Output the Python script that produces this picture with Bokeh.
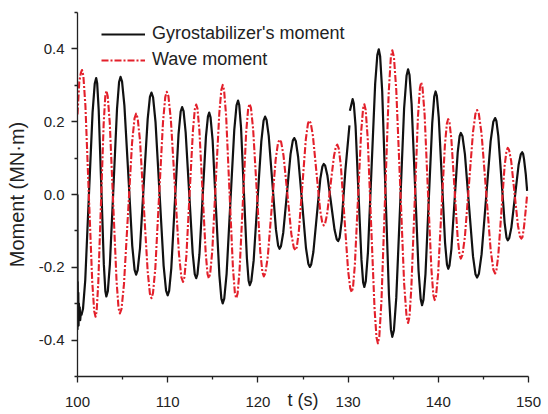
from bokeh.plotting import figure
from bokeh.models import FixedTicker, PrintfTickFormatter, Range1d, Legend, LegendItem
from bokeh.embed import file_html
from bokeh.resources import INLINE

NAN = float("nan")

# Gyrostabilizer's moment (MN·m) vs time t (s)
gyro_t = [100.0, 100.0, 100.03, 100.06, 100.09, 100.12, 100.16, 100.2, 100.25, 100.3, 100.37, 100.45,
          100.61, 100.86, 101.26, 101.67,
          101.91, 102.07, 102.18, 102.35, 102.64, 102.92,
          103.09, 103.2, 103.36, 103.59, 103.99, 104.38,
          104.61, 104.77, 104.94, 105.2, 105.64, 106.07,
          106.33, 106.5, 106.67, 106.93, 107.35, 107.78,
          108.03, 108.2, 108.38, 108.65, 109.1, 109.55,
          109.82, 110.0, 110.16, 110.4, 110.8, 111.2,
          111.44, 111.6, 111.76, 111.99, 112.38, 112.77,
          113.0, 113.16, 113.3, 113.52, 113.88, 114.24,
          114.46, 114.6, 114.75, 114.98, 115.35, 115.73,
          115.95, 116.1, 116.27, 116.53, 116.95, 117.38,
          117.63, 117.8, 117.93, 118.13, 118.45, 118.78,
          118.97, 119.1, 119.27, 119.53, 119.95, 120.38,
          120.63, 120.8, 120.96, 121.2, 121.6, 122.0,
          122.24, 122.4, 122.56, 122.81, 123.22, 123.62,
          123.87, 124.03, 124.2, 124.46, 124.9, 125.33,
          125.59, 125.76, 125.91, 126.15, 126.53, 126.92,
          127.15, 127.3, 127.46, 127.7, 128.1, 128.5,
          128.74, 128.9, 129.06, 129.3, 129.7, 130.15, NAN, 130.2,
          130.5, 130.63, 130.83, 131.15, 131.48,
          131.67, 131.8, 131.96, 132.2, 132.6, 133.0,
          133.24, 133.4, 133.55, 133.78, 134.15, 134.53,
          134.75, 134.9, 135.08, 135.34, 135.78, 136.21,
          136.48, 136.65, 136.81, 137.04, 137.43, 137.81,
          138.05, 138.2, 138.35, 138.58, 138.95, 139.33,
          139.55, 139.7, 139.84, 140.05, 140.4, 140.75,
          140.96, 141.1, 141.24, 141.45, 141.8, 142.15,
          142.36, 142.5, 142.68, 142.95, 143.4, 143.85,
          144.12, 144.3, 144.5, 144.8, 145.3, 145.8,
          146.1, 146.3, 146.44, 146.65, 147.0, 147.35,
          147.56, 147.7, 147.86, 148.1, 148.5, 148.9,
          149.14, 149.3, 149.4, 149.5, 149.7, 149.85]
gyro_m = [0.0, -0.37, -0.24, -0.35, -0.27, -0.36, -0.30, -0.34, -0.31, -0.345, -0.325, -0.33,
          -0.314, -0.235, -0.005, 0.225,
          0.304, 0.32, 0.306, 0.232, 0.02, -0.192,
          -0.266, -0.28, -0.266, -0.192, 0.022, 0.235,
          0.309, 0.323, 0.31, 0.244, 0.052, -0.141,
          -0.207, -0.22, -0.208, -0.147, 0.03, 0.207,
          0.268, 0.28, 0.267, 0.199, 0.002, -0.196,
          -0.264, -0.277, -0.265, -0.202, -0.019, 0.165,
          0.228, 0.24, 0.229, 0.171, 0.005, -0.161,
          -0.219, -0.23, -0.219, -0.164, -0.003, 0.159,
          0.214, 0.225, 0.212, 0.149, -0.037, -0.222,
          -0.286, -0.299, -0.286, -0.218, -0.021, 0.177,
          0.245, 0.258, 0.246, 0.184, 0.005, -0.175,
          -0.237, -0.249, -0.238, -0.181, -0.018, 0.146,
          0.203, 0.214, 0.205, 0.161, 0.033, -0.096,
          -0.14, -0.149, -0.142, -0.105, 0.003, 0.111,
          0.148, 0.155, 0.147, 0.103, -0.022, -0.147,
          -0.19, -0.199, -0.192, -0.158, -0.058, 0.043,
          0.077, 0.084, 0.079, 0.053, -0.022, -0.097,
          -0.123, -0.128, -0.119, -0.071, 0.067, 0.19, NAN, 0.23,
          0.262, 0.25, 0.187, 0.004, -0.179,
          -0.242, -0.254, -0.238, -0.159, 0.073, 0.304,
          0.383, 0.399, 0.38, 0.284, 0.004, -0.276,
          -0.372, -0.391, -0.373, -0.284, -0.024, 0.237,
          0.326, 0.344, 0.328, 0.249, 0.02, -0.209,
          -0.288, -0.304, -0.29, -0.218, -0.011, 0.197,
          0.269, 0.283, 0.271, 0.212, 0.040, -0.133,
          -0.192, -0.204, -0.195, -0.15, -0.018, 0.115,
          0.16, 0.169, 0.16, 0.111, -0.03, -0.17,
          -0.219, -0.228, -0.218, -0.164, -0.009, 0.146,
          0.2, 0.21, 0.202, 0.161, 0.042, -0.077,
          -0.118, -0.126, -0.12, -0.091, -0.005, 0.081,
          0.11, 0.116, 0.112, 0.098, 0.055, 0.01]

# Wave moment (MN·m) vs time t (s)
wave_t = [100.0, 100.2, 100.38, 100.5, 100.65,
          100.88, 101.25, 101.63,
          101.85, 102.0, 102.12, 102.3, 102.6, 102.9,
          103.08, 103.2, 103.35, 103.58, 103.95, 104.33,
          104.55, 104.7, 104.88, 105.15, 105.6, 106.05,
          106.32, 106.5, 106.67, 106.93, 107.35, 107.78,
          108.03, 108.2, 108.37, 108.63, 109.05, 109.48,
          109.73, 109.9, 110.08, 110.35, 110.8, 111.25,
          111.52, 111.7, 111.85, 112.07, 112.43, 112.8,
          113.01, 113.16, 113.3, 113.51, 113.86, 114.21,
          114.42, 114.56, 114.71, 114.95, 115.33, 115.72,
          115.95, 116.1, 116.25, 116.48, 116.85, 117.23,
          117.45, 117.6, 117.75, 117.97, 118.34, 118.7,
          118.92, 119.07, 119.23, 119.47, 119.87, 120.26,
          120.5, 120.66, 120.83, 121.1, 121.53, 121.97,
          122.23, 122.4, 122.58, 122.84, 123.28, 123.71,
          123.98, 124.15, 124.31, 124.54, 124.93, 125.31,
          125.55, 125.7, 125.86, 126.1, 126.5, 126.9,
          127.14, 127.3, 127.45, 127.68, 128.05, 128.43,
          128.65, 128.8, 128.96, 129.2, 129.6, 130.0,
          130.24, 130.4, 130.54, 130.75, 131.1, 131.45,
          131.66, 131.8, 131.95, 132.18, 132.55, 132.93,
          133.15, 133.3, 133.46, 133.7, 134.1, 134.5,
          134.74, 134.9, 135.08, 135.34, 135.78, 136.21,
          136.48, 136.65, 136.8, 137.01, 137.38, 137.74,
          137.96, 138.1, 138.25, 138.48, 138.85, 139.23,
          139.45, 139.6, 139.75, 139.98, 140.35, 140.73,
          140.95, 141.1, 141.24, 141.45, 141.8, 142.15,
          142.36, 142.5, 142.68, 142.95, 143.4, 143.85,
          144.12, 144.3, 144.5, 144.8, 145.3, 145.8,
          146.1, 146.3, 146.44, 146.65, 147.0, 147.35,
          147.56, 147.7, 147.85, 148.08, 148.45, 148.83,
          149.05, 149.2, 149.33, 149.5, 149.7, 149.85]
wave_m = [0.22, 0.31, 0.335, 0.342, 0.326,
          0.243, 0.003, -0.237,
          -0.32, -0.336, -0.321, -0.245, -0.026, 0.194,
          0.27, 0.285, 0.27, 0.196, -0.021, -0.238,
          -0.312, -0.327, -0.314, -0.247, -0.053, 0.142,
          0.209, 0.222, 0.21, 0.148, -0.032, -0.211,
          -0.273, -0.285, -0.271, -0.202, -0.002, 0.199,
          0.268, 0.282, 0.27, 0.206, 0.021, -0.164,
          -0.228, -0.24, -0.228, -0.169, 0.004, 0.176,
          0.235, 0.247, 0.236, 0.177, 0.009, -0.16,
          -0.219, -0.23, -0.217, -0.153, 0.036, 0.223,
          0.288, 0.301, 0.287, 0.215, 0.008, -0.2,
          -0.271, -0.285, -0.272, -0.207, -0.018, 0.171,
          0.236, 0.249, 0.238, 0.18, 0.012, -0.156,
          -0.214, -0.225, -0.216, -0.17, -0.037, 0.096,
          0.142, 0.151, 0.144, 0.107, -0.001, -0.109,
          -0.146, -0.153, -0.145, -0.101, 0.025, 0.151,
          0.195, 0.203, 0.196, 0.161, 0.059, -0.043,
          -0.078, -0.085, -0.08, -0.053, 0.026, 0.105,
          0.132, 0.137, 0.127, 0.078, -0.066, -0.209,
          -0.258, -0.268, -0.256, -0.193, -0.01, 0.173,
          0.236, 0.248, 0.232, 0.152, -0.081, -0.313,
          -0.393, -0.409, -0.39, -0.292, -0.007, 0.279,
          0.377, 0.396, 0.378, 0.287, 0.022, -0.244,
          -0.335, -0.353, -0.337, -0.257, -0.023, 0.212,
          0.292, 0.308, 0.294, 0.221, 0.009, -0.203,
          -0.276, -0.29, -0.278, -0.218, -0.042, 0.135,
          0.195, 0.207, 0.198, 0.151, 0.016, -0.12,
          -0.167, -0.176, -0.166, -0.116, 0.028, 0.172,
          0.222, 0.232, 0.221, 0.166, 0.008, -0.151,
          -0.206, -0.217, -0.209, -0.167, -0.045, 0.078,
          0.12, 0.128, 0.122, 0.092, 0.004, -0.085,
          -0.115, -0.121, -0.117, -0.09, -0.04, 0.0]

assert len(gyro_t) == len(gyro_m) and len(wave_t) == len(wave_m)

x_ticks = [100, 110, 120, 130, 140, 150]
x_minor = [105, 115, 125, 135, 145]
y_ticks = [-0.4, -0.2, 0.0, 0.2, 0.4]
y_minor = [-0.5, -0.3, -0.1, 0.1, 0.3, 0.5]

series_labels = ["Gyrostabilizer's moment", "Wave moment"]
y_title = "Moment (MN·m)"
x_title = "t (s)"

FONT = "Liberation Sans"
AX = "#222222"

p = figure(width=548, height=414, output_backend="svg", toolbar_location=None,
           x_range=Range1d(100, 150), y_range=Range1d(-0.5, 0.5),
           min_border_left=77, min_border_right=20, min_border_top=12,
           min_border_bottom=38)
p.outline_line_color = None
p.grid.visible = False
p.background_fill_color = "white"
p.border_fill_color = "white"

r_gyro = p.line(gyro_t, gyro_m, line_color="#111111", line_width=2.2,
                line_join="round")
r_wave = p.line(wave_t, wave_m, line_color="#e3202b", line_width=2.1,
                line_dash="7 2 2 2", line_join="round")

for ax in (p.xaxis[0], p.yaxis[0]):
    ax.axis_line_color = AX
    ax.axis_line_width = 1.3
    ax.major_tick_line_color = AX
    ax.minor_tick_line_color = AX
    ax.major_tick_line_width = 1.3
    ax.minor_tick_line_width = 1.3
    ax.major_tick_out = 6
    ax.major_tick_in = 0
    ax.minor_tick_out = 3
    ax.minor_tick_in = 0
    ax.major_label_text_font = FONT
    ax.major_label_text_font_size = "15px"
    ax.major_label_text_color = AX
    ax.axis_label_text_font = FONT
    ax.axis_label_text_color = AX
    ax.axis_label_text_font_style = "normal"

p.xaxis.ticker = FixedTicker(ticks=x_ticks, minor_ticks=x_minor)
p.yaxis.ticker = FixedTicker(ticks=y_ticks, minor_ticks=y_minor)
p.yaxis.formatter = PrintfTickFormatter(format="%.1f")
p.xaxis.major_label_standoff = 14
p.yaxis.major_label_standoff = 7

p.yaxis.axis_label = y_title
p.yaxis.axis_label_text_font_size = "20px"
p.yaxis.axis_label_standoff = 8

p.xaxis.axis_label = x_title
p.xaxis.axis_label_text_font_size = "18px"
p.xaxis.axis_label_standoff = -20

legend = Legend(items=[LegendItem(label=series_labels[0], renderers=[r_gyro]),
                       LegendItem(label=series_labels[1], renderers=[r_wave])],
                location=(24, 306), padding=0, margin=0, spacing=5,
                glyph_width=44, glyph_height=20, label_height=20,
                label_standoff=7, border_line_color=None,
                background_fill_alpha=0,
                label_text_font=FONT, label_text_font_size="18px",
                label_text_color=AX)
p.add_layout(legend)

open("out.html", "w").write(file_html(p, INLINE))
